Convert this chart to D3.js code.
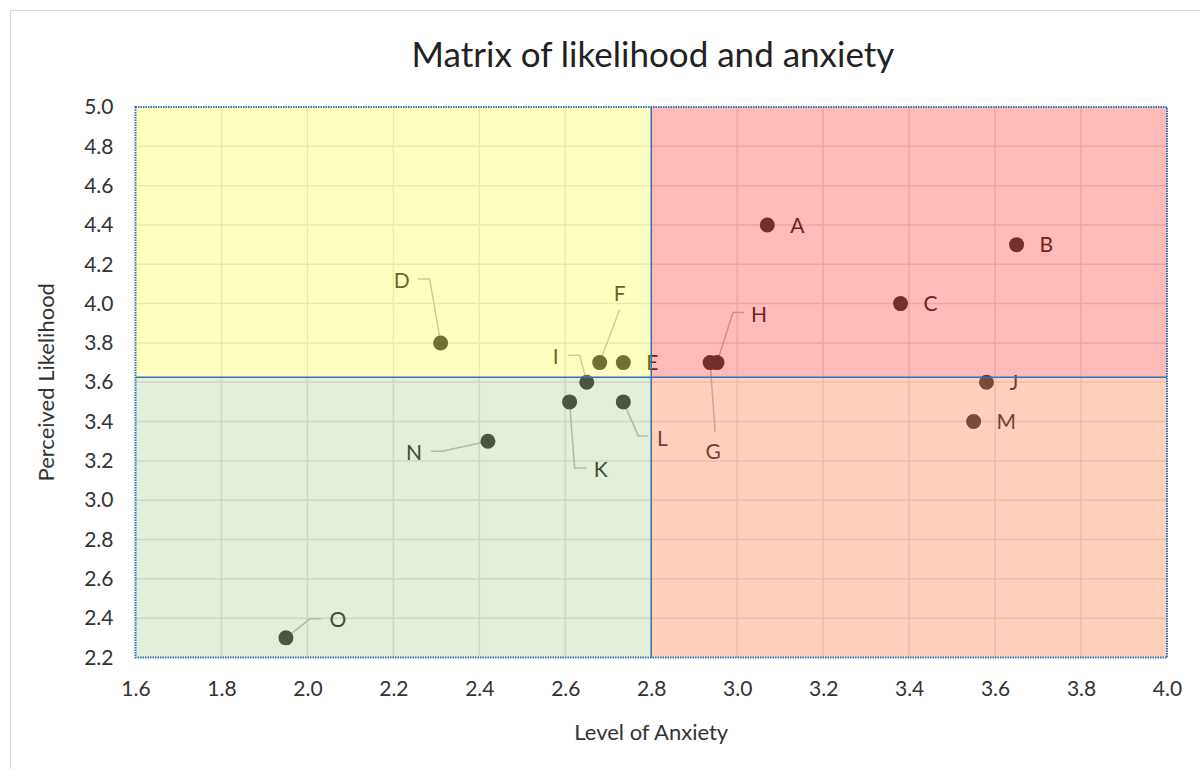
<!DOCTYPE html>
<html>
<head>
<meta charset="utf-8">
<script src="https://cdn.jsdelivr.net/npm/d3@7"></script>
<style>
  body { margin: 0; background: #fff; }
  text { font-family: Lato, "Open Sans", sans-serif; }
</style>
</head>
<body>
<div id="chart"></div>
<script>
// points
var names      = ["A", "B", "C", "D", "E", "F", "G", "H", "I", "J", "K", "L", "M", "N", "O"];
var anxiety    = [3.07, 3.65, 3.38, 2.31, 2.735, 2.68, 2.937, 2.953, 2.65, 3.58, 2.61, 2.735, 3.55, 2.42, 1.95];
var likelihood = [4.4, 4.3, 4.0, 3.8, 3.7, 3.7, 3.7, 3.7, 3.6, 3.6, 3.5, 3.5, 3.4, 3.3, 2.3];

var xTicks = [1.6, 1.8, 2.0, 2.2, 2.4, 2.6, 2.8, 3.0, 3.2, 3.4, 3.6, 3.8, 4.0];
var yTicks = [2.2, 2.4, 2.6, 2.8, 3.0, 3.2, 3.4, 3.6, 3.8, 4.0, 4.2, 4.4, 4.6, 4.8, 5.0];
var xSplit = 2.8, ySplit = 3.625;

// label placement (pixel offsets from the marker), like excel's dragged labels
var labelPos = {
  A: {right: true}, B: {right: true}, C: {right: true}, E: {right: true},
  J: {right: true}, M: {right: true},
  D: {t: [-39, -62], l: [[-11, -64], [-23, -64]]},
  F: {t: [20, -69],  l: [[20, -53]]},
  I: {t: [-31, -26], l: [[-7, -27], [-19, -27]]},
  K: {t: [31, 68],   l: [[5, 66], [17, 66]]},
  L: {t: [39, 37],   l: [[15, 34], [25, 34]]},
  N: {t: [-74, 11],  l: [[-46, 10], [-57, 10]]},
  O: {t: [52, -18],  l: [[24, -19], [35, -19]]},
  G: {t: [3, 89],    l: [[5, 69]]},
  H: {t: [42, -48],  l: [[16, -50], [27, -50]]}
};

var W = 1200, H = 769;
var margin = {left: 135.5, right: 33, top: 107, bottom: 111.5};

var svg = d3.select("#chart").append("svg")
    .attr("width", W)
    .attr("height", H);

svg.append("rect")
    .attr("x", 10.5).attr("y", 10.5)
    .attr("width", W + 20).attr("height", H + 20)
    .attr("fill", "#fff")
    .attr("stroke", "#d9d9d9");

var x = d3.scaleLinear().domain([1.6, 4.0]).range([margin.left, W - margin.right]);
var y = d3.scaleLinear().domain([2.2, 5.0]).range([H - margin.bottom, margin.top]);

// gridlines
svg.append("g").selectAll("line.vx")
    .data(xTicks.slice(1, -1)).enter().append("line")
    .attr("x1", function(d) { return x(d); })
    .attr("x2", function(d) { return x(d); })
    .attr("y1", y(5.0)).attr("y2", y(2.2))
    .attr("stroke", "#e4e4e4").attr("stroke-width", 1.5);
svg.append("g").selectAll("line.hy")
    .data(yTicks.slice(1, -1)).enter().append("line")
    .attr("y1", function(d) { return y(d); })
    .attr("y2", function(d) { return y(d); })
    .attr("x1", x(1.6)).attr("x2", x(4.0))
    .attr("stroke", "#e4e4e4").attr("stroke-width", 1.5);

var pts = names.map(function(n, i) {
  return {name: n, cx: x(anxiety[i]), cy: y(likelihood[i]), pos: labelPos[n]};
});

// leader lines
svg.append("g").selectAll("polyline")
    .data(pts.filter(function(d) { return !d.pos.right; }))
    .enter().append("polyline")
    .attr("points", function(d) {
      var p = [[d.cx, d.cy]].concat(d.pos.l.map(function(o) { return [d.cx + o[0], d.cy + o[1]]; }));
      return p.join(" ");
    })
    .attr("fill", "none")
    .attr("stroke", "#bfbfbf")
    .attr("stroke-width", 1.5);

svg.append("g").selectAll("circle")
    .data(pts).enter().append("circle")
    .attr("cx", function(d) { return d.cx; })
    .attr("cy", function(d) { return d.cy; })
    .attr("r", 7.5)
    .attr("fill", "#404040");

svg.append("g").selectAll("text")
    .data(pts).enter().append("text")
    .attr("x", function(d) { return d.pos.right ? d.cx + 23 : d.cx + d.pos.t[0]; })
    .attr("y", function(d) { return d.pos.right ? d.cy : d.cy + d.pos.t[1]; })
    .attr("dy", "0.36em")
    .attr("text-anchor", function(d) { return d.pos.right ? "start" : "middle"; })
    .attr("font-size", 21)
    .attr("fill", "#333")
    .text(function(d) { return d.name; });

// quadrant shading over everything, semi transparent
var quads = [
  {x0: 1.6, x1: xSplit, y0: ySplit, y1: 5.0, c: "rgba(255,255,0,0.25)"},
  {x0: xSplit, x1: 4.0, y0: ySplit, y1: 5.0, c: "rgba(255,0,0,0.27)"},
  {x0: 1.6, x1: xSplit, y0: 2.2, y1: ySplit, c: "rgba(112,173,71,0.2)"},
  {x0: xSplit, x1: 4.0, y0: 2.2, y1: ySplit, c: "rgba(255,100,40,0.3)"}
];
svg.append("g").selectAll("rect")
    .data(quads).enter().append("rect")
    .attr("x", function(d) { return x(d.x0); })
    .attr("y", function(d) { return y(d.y1); })
    .attr("width", function(d) { return x(d.x1) - x(d.x0); })
    .attr("height", function(d) { return y(d.y0) - y(d.y1); })
    .attr("fill", function(d) { return d.c; });

svg.append("line")
    .attr("x1", x(xSplit)).attr("x2", x(xSplit))
    .attr("y1", y(5.0)).attr("y2", y(2.2))
    .attr("stroke", "#2e75b6").attr("stroke-width", 1.5);
svg.append("line")
    .attr("x1", x(1.6)).attr("x2", x(4.0))
    .attr("y1", y(ySplit)).attr("y2", y(ySplit))
    .attr("stroke", "#2e75b6").attr("stroke-width", 1.5);

svg.append("rect")
    .attr("x", x(1.6)).attr("y", y(5.0))
    .attr("width", x(4.0) - x(1.6))
    .attr("height", y(2.2) - y(5.0))
    .attr("fill", "none")
    .attr("stroke", "#2e75b6")
    .attr("stroke-width", 2)
    .attr("stroke-dasharray", "1.5,1");

// axes, ticks only as labels
var xAxis = svg.append("g")
    .attr("transform", "translate(0," + (H - margin.bottom) + ")")
    .call(d3.axisBottom(x).tickValues(xTicks).tickFormat(d3.format(".1f")).tickSize(0).tickPadding(24));
var yAxis = svg.append("g")
    .attr("transform", "translate(" + margin.left + ",0)")
    .call(d3.axisLeft(y).tickValues(yTicks).tickFormat(d3.format(".1f")).tickSize(0).tickPadding(22));
[xAxis, yAxis].forEach(function(a) {
  a.select(".domain").remove();
  a.selectAll("text").attr("font-size", 21).attr("fill", "#333")
    .attr("font-family", "Lato, sans-serif");
});

svg.append("text")
    .attr("x", 653).attr("y", 67)
    .attr("text-anchor", "middle")
    .attr("font-size", 35)
    .attr("fill", "#222")
    .text("Matrix of likelihood and anxiety");

svg.append("text")
    .attr("x", (x(1.6) + x(4.0)) / 2).attr("y", 740)
    .attr("text-anchor", "middle")
    .attr("font-size", 22)
    .attr("fill", "#333")
    .text("Level of Anxiety");

svg.append("text")
    .attr("transform", "translate(54," + (y(5.0) + y(2.2)) / 2 + ") rotate(-90)")
    .attr("text-anchor", "middle")
    .attr("font-size", 22)
    .attr("fill", "#333")
    .text("Perceived Likelihood");
</script>
</body>
</html>
